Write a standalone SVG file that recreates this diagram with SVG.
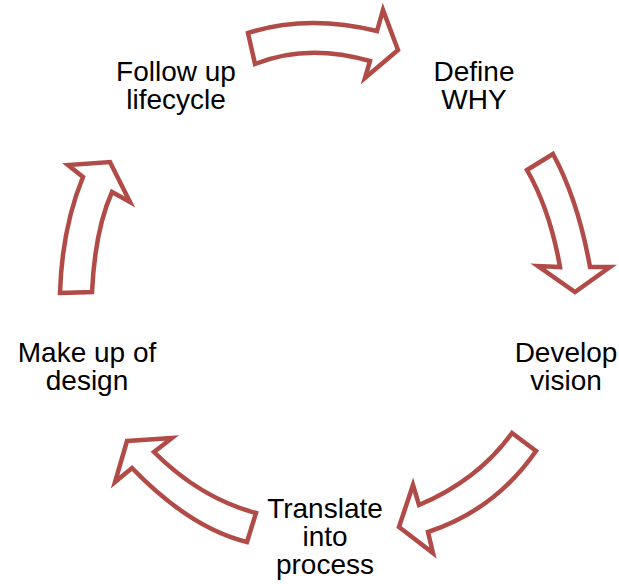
<svg xmlns="http://www.w3.org/2000/svg" width="619" height="584" viewBox="0 0 619 584">
<style>
.arr{fill:#ffffff;stroke:#b04b47;stroke-width:4.5;stroke-linejoin:miter}
.lbl{font-family:"Liberation Sans",Arial,sans-serif;font-size:28px;fill:#000;text-anchor:middle}
</style>
<rect width="619" height="584" fill="#ffffff"/>
<g id="connectors">
<path class="arr" d="M 248,33 Q 307,14 377,31 L 383,10 L 398,50 L 365,78 L 370,61 Q 307,43 255,64 Z"/>
<path class="arr" d="M 527,170 L 553,154 Q 578,200 590,267 L 610,267 L 575,292 L 538,266 L 560,267 Q 550,210 527,170 Z"/>
<path class="arr" d="M 512,433 L 536,451 Q 495,510 428,532 L 433,553 L 399,527 L 413,485 L 419,505 Q 478,480 512,433 Z"/>
<path class="arr" d="M 127,441 L 172,438 L 154,452 Q 200,498 256,513 L 247,542 Q 190,528 132,468 L 115,482 Z"/>
<path class="arr" d="M 60,293 L 92,292 Q 95,230 112,192 L 130,202 L 110,162 L 68,165 L 83,177 Q 62,228 60,293 Z"/>
</g>
<g id="node-define">
<text class="lbl" x="474" y="81">Define</text>
<text class="lbl" x="474" y="109">WHY</text>
</g>
<g id="node-develop">
<text class="lbl" x="566" y="362">Develop</text>
<text class="lbl" x="566" y="390">vision</text>
</g>
<g id="node-translate">
<text class="lbl" x="325" y="518">Translate</text>
<text class="lbl" x="325" y="546">into</text>
<text class="lbl" x="325" y="574">process</text>
</g>
<g id="node-make">
<text class="lbl" x="87" y="362">Make up of</text>
<text class="lbl" x="87" y="390">design</text>
</g>
<g id="node-follow">
<text class="lbl" x="176" y="81">Follow up</text>
<text class="lbl" x="176" y="109">lifecycle</text>
</g>
</svg>
